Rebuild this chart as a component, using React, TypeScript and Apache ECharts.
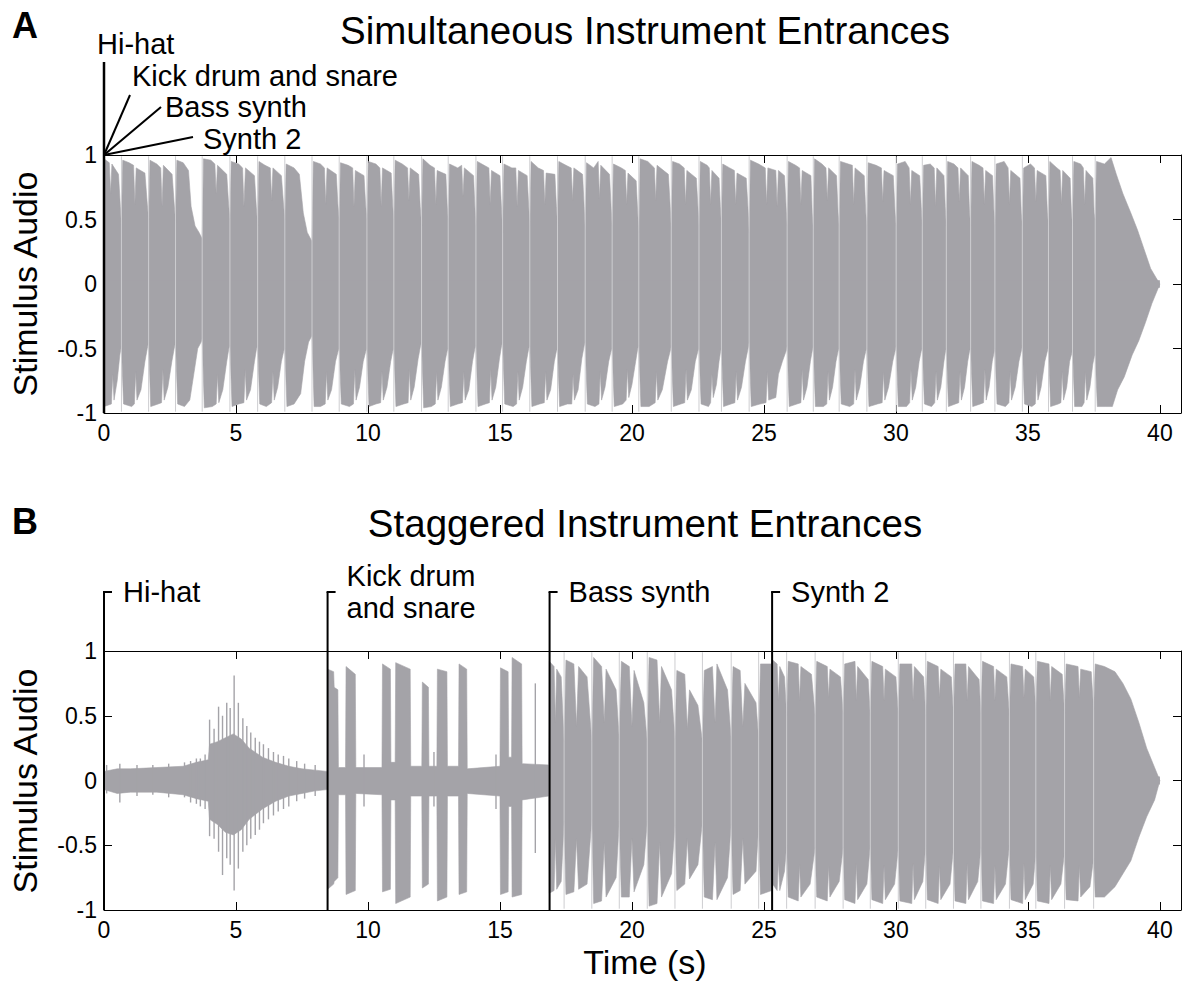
import React, { useEffect, useRef } from "react";
import * as echarts from "echarts";

// ---------------- data ----------------
const X_MAX = 40.8;
const xTickLabels = ["0", "5", "10", "15", "20", "25", "30", "35", "40"];
const yTickLabels = ["-1", "-0.5", "0", "0.5", "1"];

const instrumentsA = ["Hi-hat", "Kick drum and snare", "Bass synth", "Synth 2"];
const instrumentsB = ["Hi-hat", "Kick drum\nand snare", "Bass synth", "Synth 2"];
const entrancesA = [0, 0, 0, 0];
const entrancesB = [0, 8.47, 16.88, 25.31];

// Panel A: envelope breakpoints [time s, amplitude]
const upperA: number[][] = [
  [0,0.97],[0.2,0.94],[0.25,0.7],[0.3,0.93],[0.55,0.85],[0.62,0.6],[0.66,0.45],[0.71,0.96],
  [0.95,0.94],[1.12,0.92],[1.17,0.62],[1.22,0.9],[1.55,0.86],[1.64,0.62],[1.69,0.5],[1.74,0.96],
  [2.0,0.93],[2.15,0.9],[2.2,0.6],[2.25,0.92],[2.58,0.85],[2.66,0.62],[2.71,0.48],[2.76,0.96],
  [3.0,0.94],[3.2,0.88],[3.3,0.6],[3.45,0.45],[3.6,0.4],[3.72,0.35],[3.77,0.97],
  [4.05,0.96],[4.2,0.93],[4.25,0.7],[4.3,0.92],[4.65,0.85],[4.72,0.62],[4.77,0.5],[4.82,0.95],
  [5.1,0.93],[5.25,0.9],[5.3,0.6],[5.36,0.9],[5.7,0.84],[5.77,0.6],[5.82,0.45],[5.87,0.95],
  [6.1,0.92],[6.3,0.9],[6.35,0.65],[6.4,0.9],[6.72,0.84],[6.8,0.62],[6.85,0.5],[6.9,0.93],
  [7.2,0.9],[7.4,0.85],[7.55,0.55],[7.7,0.4],[7.88,0.33],[7.93,0.95],
  [8.2,0.93],[8.35,0.9],[8.4,0.62],[8.45,0.9],[8.8,0.85],[8.86,0.62],[8.91,0.5],[8.96,0.94],
  [9.25,0.92],[9.42,0.9],[9.47,0.6],[9.52,0.88],[9.85,0.84],[9.91,0.62],[9.96,0.5],[10.01,0.95],
  [10.3,0.93],[10.45,0.9],[10.5,0.6],[10.55,0.9],[10.88,0.86],[10.94,0.6],[10.98,0.5],[11.03,0.96],
  [11.3,0.93],[11.5,0.9],[11.55,0.65],[11.6,0.9],[11.92,0.85],[11.98,0.6],[12.03,0.45],[12.08,0.97],
  [12.35,0.92],[12.52,0.9],[12.57,0.62],[12.62,0.88],[12.95,0.85],[13.0,0.62],[13.04,0.5],[13.09,0.93],
  [13.4,0.9],[13.55,0.92],[13.6,0.68],[13.65,0.9],[14.0,0.84],[14.05,0.6],[14.09,0.45],[14.14,0.95],
  [14.4,0.92],[14.58,0.9],[14.63,0.62],[14.68,0.88],[15.0,0.84],[15.06,0.58],[15.1,0.4],[15.15,0.93],
  [15.45,0.9],[15.6,0.9],[15.65,0.6],[15.7,0.88],[16.03,0.84],[16.09,0.6],[16.13,0.45],[16.18,0.95],
  [16.45,0.9],[16.65,0.88],[16.7,0.62],[16.75,0.86],[17.08,0.85],[17.14,0.6],[17.18,0.45],[17.23,0.95],
  [17.5,0.92],[17.7,0.9],[17.75,0.65],[17.8,0.9],[18.13,0.85],[18.19,0.6],[18.23,0.42],[18.28,0.94],
  [18.55,0.9],[18.72,0.95],[18.77,0.66],[18.82,0.92],[19.15,0.85],[19.21,0.6],[19.25,0.45],[19.3,0.93],
  [19.6,0.9],[19.75,0.88],[19.8,0.62],[19.85,0.86],[20.16,0.8],[20.22,0.55],[20.26,0.4],[20.31,0.97],
  [20.6,0.95],[20.85,0.9],[20.9,0.65],[20.95,0.92],[21.38,0.85],[21.45,0.6],[21.49,0.42],[21.54,0.95],
  [21.8,0.93],[21.98,0.9],[22.03,0.62],[22.08,0.88],[22.44,0.82],[22.5,0.6],[22.54,0.45],[22.59,0.95],
  [22.85,0.92],[22.93,0.9],[22.98,0.62],[23.03,0.88],[23.3,0.82],[23.35,0.6],[23.39,0.45],[23.44,0.93],
  [23.7,0.9],[23.88,0.88],[23.93,0.62],[23.98,0.86],[24.33,0.82],[24.4,0.58],[24.44,0.4],[24.49,0.96],
  [24.8,0.93],[25.05,0.9],[25.1,0.62],[25.15,0.9],[25.45,0.88],[25.5,0.6],[25.55,0.88],[25.78,0.84],[25.84,0.6],[25.88,0.45],[25.93,0.95],
  [26.2,0.92],[26.35,0.9],[26.4,0.62],[26.45,0.88],[26.78,0.84],[26.83,0.55],[26.87,0.42],[26.92,0.97],
  [27.2,0.93],[27.35,0.9],[27.4,0.65],[27.45,0.9],[27.75,0.84],[27.81,0.55],[27.85,0.45],[27.9,0.95],
  [28.2,0.93],[28.35,0.92],[28.4,0.62],[28.45,0.9],[28.8,0.84],[28.86,0.55],[28.9,0.45],[28.95,0.94],
  [29.25,0.92],[29.45,0.9],[29.5,0.64],[29.55,0.88],[29.9,0.84],[29.97,0.55],[30.01,0.45],[30.06,0.93],
  [30.35,0.95],[30.5,0.9],[30.55,0.62],[30.6,0.88],[30.9,0.84],[30.96,0.6],[31.0,0.45],[31.05,0.92],
  [31.3,0.93],[31.45,0.9],[31.5,0.6],[31.55,0.9],[31.82,0.84],[31.87,0.6],[31.91,0.45],[31.96,0.95],
  [32.2,0.93],[32.35,0.9],[32.4,0.64],[32.45,0.9],[32.74,0.84],[32.79,0.55],[32.83,0.45],[32.88,0.95],
  [33.15,0.92],[33.3,0.9],[33.35,0.62],[33.4,0.88],[33.66,0.84],[33.71,0.58],[33.75,0.45],[33.8,0.93],
  [34.1,0.95],[34.25,0.9],[34.3,0.62],[34.35,0.88],[34.7,0.82],[34.75,0.55],[34.79,0.45],[34.84,0.9],
  [35.1,0.93],[35.25,0.9],[35.3,0.64],[35.35,0.88],[35.68,0.84],[35.74,0.55],[35.78,0.45],[35.83,0.95],
  [36.1,0.9],[36.22,0.88],[36.27,0.62],[36.32,0.88],[36.6,0.82],[36.65,0.55],[36.69,0.45],[36.74,0.95],
  [37.0,0.93],[37.1,0.9],[37.15,0.62],[37.2,0.88],[37.46,0.82],[37.51,0.55],[37.55,0.5],[37.6,0.95],
  [37.9,0.93],[38.15,0.98],[38.35,0.85],[38.6,0.7],[38.9,0.55],[39.15,0.42],[39.4,0.27],[39.65,0.12],[39.85,0.05],[40.0,0]
];
const lowerA: number[][] = [
  [0,-0.95],[0.28,-0.93],[0.33,-0.7],[0.38,-0.9],[0.5,-0.75],[0.6,-0.55],[0.66,-0.48],[0.74,-0.93],
  [1.05,-0.95],[1.15,-0.93],[1.2,-0.68],[1.25,-0.9],[1.4,-0.82],[1.55,-0.6],[1.64,-0.5],[1.69,-0.45],[1.77,-0.95],
  [2.05,-0.93],[2.18,-0.92],[2.23,-0.66],[2.28,-0.9],[2.42,-0.8],[2.57,-0.6],[2.66,-0.5],[2.71,-0.45],[2.79,-0.93],
  [3.05,-0.95],[3.25,-0.9],[3.4,-0.7],[3.55,-0.5],[3.68,-0.45],[3.72,-0.42],[3.8,-0.96],
  [4.1,-0.95],[4.25,-0.93],[4.3,-0.7],[4.35,-0.92],[4.5,-0.82],[4.65,-0.6],[4.73,-0.5],[4.77,-0.48],[4.85,-0.95],
  [5.1,-0.93],[5.3,-0.92],[5.35,-0.66],[5.4,-0.9],[5.55,-0.82],[5.7,-0.6],[5.78,-0.5],[5.82,-0.48],[5.9,-0.93],
  [6.15,-0.95],[6.35,-0.92],[6.4,-0.68],[6.45,-0.9],[6.58,-0.8],[6.72,-0.6],[6.81,-0.52],[6.85,-0.5],[6.93,-0.95],
  [7.2,-0.93],[7.45,-0.85],[7.6,-0.6],[7.75,-0.45],[7.88,-0.4],[7.96,-0.95],
  [8.2,-0.95],[8.38,-0.93],[8.43,-0.68],[8.48,-0.9],[8.62,-0.82],[8.77,-0.6],[8.87,-0.52],[8.91,-0.5],[8.99,-0.93],
  [9.3,-0.95],[9.45,-0.93],[9.5,-0.66],[9.55,-0.9],[9.68,-0.8],[9.82,-0.6],[9.92,-0.52],[9.96,-0.5],[10.04,-0.95],
  [10.3,-0.93],[10.48,-0.92],[10.53,-0.68],[10.58,-0.9],[10.72,-0.8],[10.86,-0.6],[10.94,-0.52],[10.98,-0.5],[11.06,-0.95],
  [11.35,-0.93],[11.52,-0.92],[11.57,-0.66],[11.62,-0.9],[11.75,-0.8],[11.9,-0.58],[11.99,-0.48],[12.03,-0.45],[12.11,-0.96],
  [12.4,-0.95],[12.55,-0.93],[12.6,-0.68],[12.65,-0.9],[12.78,-0.8],[12.92,-0.6],[13.0,-0.52],[13.04,-0.5],[13.12,-0.95],
  [13.4,-0.93],[13.58,-0.92],[13.63,-0.68],[13.68,-0.9],[13.82,-0.82],[13.96,-0.6],[14.05,-0.5],[14.09,-0.48],[14.17,-0.95],
  [14.45,-0.93],[14.6,-0.92],[14.65,-0.66],[14.7,-0.9],[14.84,-0.8],[14.98,-0.58],[15.06,-0.48],[15.1,-0.45],[15.18,-0.93],
  [15.5,-0.95],[15.63,-0.93],[15.68,-0.68],[15.73,-0.9],[15.86,-0.8],[16.0,-0.6],[16.09,-0.5],[16.13,-0.48],[16.21,-0.95],
  [16.5,-0.93],[16.68,-0.92],[16.73,-0.68],[16.78,-0.9],[16.92,-0.82],[17.06,-0.6],[17.14,-0.52],[17.18,-0.5],[17.26,-0.95],
  [17.55,-0.93],[17.72,-0.93],[17.77,-0.7],[17.82,-0.9],[17.96,-0.82],[18.1,-0.58],[18.19,-0.48],[18.23,-0.45],[18.31,-0.93],
  [18.6,-0.95],[18.75,-0.93],[18.8,-0.68],[18.85,-0.9],[18.98,-0.8],[19.12,-0.6],[19.21,-0.52],[19.25,-0.5],[19.33,-0.95],
  [19.65,-0.93],[19.78,-0.9],[19.83,-0.66],[19.88,-0.88],[20.0,-0.78],[20.14,-0.6],[20.22,-0.5],[20.26,-0.48],[20.34,-0.95],
  [20.65,-0.95],[20.88,-0.92],[20.93,-0.68],[20.98,-0.9],[21.15,-0.82],[21.35,-0.6],[21.45,-0.52],[21.49,-0.48],[21.57,-0.95],
  [21.85,-0.93],[22.0,-0.92],[22.05,-0.66],[22.1,-0.9],[22.25,-0.82],[22.4,-0.6],[22.5,-0.52],[22.54,-0.5],[22.62,-0.93],
  [22.9,-0.95],[22.98,-0.92],[23.03,-0.7],[23.08,-0.88],[23.2,-0.78],[23.3,-0.6],[23.36,-0.52],[23.39,-0.5],[23.47,-0.95],
  [23.75,-0.93],[23.9,-0.92],[23.95,-0.68],[24.0,-0.9],[24.15,-0.8],[24.3,-0.6],[24.4,-0.5],[24.44,-0.45],[24.52,-0.95],
  [24.85,-0.93],[25.08,-0.92],[25.13,-0.68],[25.18,-0.9],[25.45,-0.88],[25.55,-0.7],[25.7,-0.6],[25.84,-0.52],[25.88,-0.48],[25.96,-0.95],
  [26.25,-0.93],[26.4,-0.92],[26.45,-0.66],[26.5,-0.9],[26.63,-0.8],[26.76,-0.6],[26.83,-0.52],[26.87,-0.48],[26.95,-0.95],
  [27.25,-0.95],[27.38,-0.93],[27.43,-0.68],[27.48,-0.9],[27.6,-0.8],[27.73,-0.6],[27.81,-0.52],[27.85,-0.5],[27.93,-0.93],
  [28.25,-0.95],[28.4,-0.93],[28.45,-0.66],[28.5,-0.9],[28.63,-0.8],[28.77,-0.6],[28.86,-0.52],[28.9,-0.5],[28.98,-0.95],
  [29.3,-0.93],[29.48,-0.92],[29.53,-0.68],[29.58,-0.9],[29.72,-0.8],[29.88,-0.6],[29.97,-0.52],[30.01,-0.48],[30.09,-0.95],
  [30.4,-0.95],[30.52,-0.92],[30.57,-0.66],[30.62,-0.9],[30.75,-0.8],[30.88,-0.6],[30.96,-0.52],[31.0,-0.5],[31.08,-0.93],
  [31.35,-0.95],[31.47,-0.92],[31.52,-0.68],[31.57,-0.9],[31.7,-0.8],[31.82,-0.6],[31.88,-0.52],[31.91,-0.5],[31.99,-0.95],
  [32.25,-0.93],[32.38,-0.92],[32.43,-0.68],[32.48,-0.9],[32.6,-0.8],[32.72,-0.6],[32.79,-0.52],[32.83,-0.5],[32.91,-0.95],
  [33.2,-0.93],[33.32,-0.92],[33.37,-0.66],[33.42,-0.9],[33.53,-0.8],[33.65,-0.6],[33.71,-0.54],[33.75,-0.5],[33.83,-0.93],
  [34.15,-0.95],[34.28,-0.92],[34.33,-0.68],[34.38,-0.9],[34.52,-0.8],[34.66,-0.6],[34.75,-0.52],[34.79,-0.48],[34.87,-0.93],
  [35.15,-0.95],[35.28,-0.93],[35.33,-0.68],[35.38,-0.9],[35.5,-0.8],[35.64,-0.6],[35.74,-0.52],[35.78,-0.48],[35.86,-0.95],
  [36.15,-0.93],[36.25,-0.92],[36.3,-0.68],[36.35,-0.9],[36.47,-0.8],[36.58,-0.6],[36.66,-0.54],[36.69,-0.5],[36.77,-0.95],
  [37.05,-0.95],[37.13,-0.92],[37.18,-0.68],[37.23,-0.9],[37.35,-0.8],[37.46,-0.62],[37.52,-0.56],[37.55,-0.55],[37.63,-0.95],
  [37.95,-0.95],[38.2,-0.95],[38.4,-0.82],[38.65,-0.72],[38.95,-0.55],[39.2,-0.44],[39.45,-0.3],[39.7,-0.15],[39.88,-0.06],[40.0,0]
];
// transient streaks (pale vertical lines) in panel A
const lightA = [0.66,1.69,2.71,3.72,4.77,5.82,6.85,7.88,8.91,9.96,10.98,12.03,13.04,14.09,15.1,16.13,17.18,18.23,19.25,20.26,21.49,22.54,23.39,24.44,25.88,26.87,27.85,28.9,30.01,31.0,31.91,32.83,33.75,34.79,35.78,36.69,37.55];

// Panel B
const upperB: number[][] = [
  [0,0.07],[0.5,0.09],[1,0.09],[2,0.1],[3,0.11],[3.5,0.14],[3.95,0.16],[4.0,0.28],[4.3,0.3],[4.6,0.33],[4.9,0.36],[5.2,0.32],[5.5,0.25],[6.0,0.18],[6.5,0.14],[7.0,0.11],[7.5,0.09],[8.0,0.08],[8.46,0.07],
  [8.47,0.86],[8.7,0.84],[8.72,0.72],[8.86,0.7],[8.88,0.1],[9.15,0.1],[9.17,0.88],[9.52,0.82],[9.54,0.1],[10.53,0.1],[10.55,0.9],[10.85,0.86],[10.87,0.14],[11.03,0.14],[11.05,0.91],[11.6,0.86],[11.62,0.11],[12.04,0.11],[12.06,0.76],[12.29,0.72],[12.31,0.11],[12.61,0.11],[12.63,0.86],[12.99,0.84],[13.01,0.11],[13.43,0.11],[13.45,0.9],[13.74,0.86],[13.76,0.09],[15.0,0.11],[15.02,0.87],[15.31,0.84],[15.33,0.18],[15.44,0.18],[15.46,0.95],[15.82,0.9],[15.84,0.13],[16.85,0.12],
  [16.87,0.92],[17.05,0.88],[17.1,0.45],[17.15,0.86],[17.32,0.8],[17.43,0.3],[17.5,0.93],[17.8,0.9],[17.9,0.42],[17.98,0.88],[18.3,0.8],[18.48,0.3],[18.55,0.95],[18.85,0.88],[18.95,0.45],[19.02,0.86],[19.4,0.7],[19.52,0.32],[19.6,0.92],[19.9,0.88],[20.0,0.42],[20.08,0.85],[20.45,0.6],[20.58,0.3],[20.65,0.95],[20.95,0.93],[21.05,0.45],[21.12,0.88],[21.5,0.7],[21.63,0.32],[21.7,0.85],[22.0,0.82],[22.1,0.4],[22.18,0.7],[22.5,0.58],[22.67,0.3],[22.74,0.85],[23.05,0.88],[23.15,0.45],[23.22,0.9],[23.62,0.7],[23.76,0.32],[23.83,0.88],[24.1,0.85],[24.2,0.42],[24.28,0.75],[24.7,0.6],[24.8,0.32],[24.87,0.9],[25.29,0.9],
  [25.33,0.93],[25.5,0.9],[25.55,0.62],[25.6,0.88],[25.78,0.8],[25.86,0.5],[25.92,0.92],[26.3,0.9],[26.35,0.62],[26.4,0.88],[26.8,0.82],[26.94,0.5],[27.0,0.92],[27.4,0.88],[27.45,0.64],[27.5,0.86],[27.9,0.8],[28.0,0.52],[28.06,0.9],[28.45,0.92],[28.5,0.62],[28.55,0.88],[28.95,0.78],[29.03,0.5],[29.09,0.92],[29.5,0.88],[29.55,0.62],[29.6,0.86],[30.0,0.8],[30.09,0.52],[30.15,0.9],[30.6,0.9],[30.65,0.62],[30.7,0.88],[31.05,0.8],[31.13,0.5],[31.19,0.92],[31.6,0.88],[31.65,0.64],[31.7,0.86],[32.1,0.8],[32.18,0.5],[32.24,0.9],[32.65,0.9],[32.7,0.62],[32.75,0.88],[33.15,0.78],[33.22,0.52],[33.28,0.92],[33.7,0.88],[33.75,0.62],[33.8,0.86],[34.2,0.8],[34.3,0.5],[34.36,0.9],[34.8,0.88],[34.85,0.64],[34.9,0.86],[35.22,0.8],[35.3,0.55],[35.36,0.92],[35.8,0.9],[35.85,0.62],[35.9,0.88],[36.3,0.82],[36.39,0.52],[36.45,0.9],[36.9,0.88],[36.95,0.64],[37.0,0.86],[37.4,0.84],[37.49,0.55],[37.55,0.9],[37.9,0.88],[38.3,0.84],[38.6,0.75],[38.9,0.63],[39.2,0.45],[39.5,0.25],[39.8,0.1],[40.0,0]
];
const lowerB: number[][] = [
  [0,-0.07],[0.5,-0.1],[1,-0.09],[2,-0.09],[3,-0.11],[3.5,-0.14],[3.95,-0.16],[4.0,-0.3],[4.3,-0.34],[4.6,-0.4],[4.9,-0.42],[5.2,-0.38],[5.5,-0.3],[6.0,-0.22],[6.5,-0.16],[7.0,-0.12],[7.5,-0.1],[8.0,-0.08],[8.46,-0.07],
  [8.47,-0.84],[8.7,-0.8],[8.72,-0.78],[8.86,-0.75],[8.88,-0.11],[9.15,-0.11],[9.17,-0.88],[9.52,-0.85],[9.54,-0.1],[10.53,-0.11],[10.55,-0.86],[10.85,-0.84],[10.87,-0.15],[11.03,-0.15],[11.05,-0.95],[11.6,-0.9],[11.62,-0.12],[12.04,-0.12],[12.06,-0.83],[12.29,-0.8],[12.31,-0.12],[12.61,-0.12],[12.63,-0.93],[12.99,-0.9],[13.01,-0.12],[13.43,-0.12],[13.45,-0.88],[13.74,-0.86],[13.76,-0.1],[15.0,-0.12],[15.02,-0.88],[15.31,-0.86],[15.33,-0.2],[15.44,-0.2],[15.46,-0.9],[15.82,-0.88],[15.84,-0.15],[16.85,-0.12],
  [16.87,-0.87],[17.05,-0.85],[17.1,-0.45],[17.15,-0.84],[17.32,-0.78],[17.43,-0.32],[17.5,-0.88],[17.8,-0.86],[17.9,-0.45],[17.98,-0.84],[18.3,-0.8],[18.48,-0.3],[18.55,-0.95],[18.85,-0.93],[18.95,-0.48],[19.02,-0.9],[19.4,-0.75],[19.52,-0.32],[19.6,-0.9],[19.9,-0.9],[20.0,-0.45],[20.08,-0.86],[20.45,-0.65],[20.58,-0.32],[20.65,-0.97],[20.95,-0.95],[21.05,-0.48],[21.12,-0.9],[21.5,-0.72],[21.63,-0.35],[21.7,-0.85],[22.0,-0.8],[22.1,-0.45],[22.18,-0.76],[22.5,-0.65],[22.67,-0.32],[22.74,-0.9],[23.05,-0.92],[23.15,-0.48],[23.22,-0.92],[23.62,-0.75],[23.76,-0.34],[23.83,-0.88],[24.1,-0.85],[24.2,-0.45],[24.28,-0.8],[24.7,-0.7],[24.8,-0.35],[24.87,-0.88],[25.29,-0.85],
  [25.33,-0.8],[25.5,-0.85],[25.55,-0.62],[25.6,-0.85],[25.78,-0.7],[25.86,-0.5],[25.92,-0.9],[26.3,-0.93],[26.35,-0.65],[26.4,-0.9],[26.75,-0.8],[26.94,-0.52],[27.0,-0.9],[27.4,-0.93],[27.45,-0.66],[27.5,-0.9],[27.85,-0.78],[28.0,-0.52],[28.06,-0.92],[28.45,-0.95],[28.5,-0.64],[28.55,-0.92],[28.9,-0.8],[29.03,-0.5],[29.09,-0.92],[29.5,-0.95],[29.55,-0.66],[29.6,-0.92],[29.95,-0.8],[30.09,-0.52],[30.15,-0.93],[30.6,-0.95],[30.65,-0.64],[30.7,-0.92],[31.02,-0.78],[31.13,-0.5],[31.19,-0.92],[31.6,-0.95],[31.65,-0.66],[31.7,-0.92],[32.05,-0.8],[32.18,-0.52],[32.24,-0.93],[32.65,-0.95],[32.7,-0.64],[32.75,-0.92],[33.1,-0.78],[33.22,-0.52],[33.28,-0.93],[33.7,-0.95],[33.75,-0.66],[33.8,-0.92],[34.15,-0.8],[34.3,-0.5],[34.36,-0.92],[34.8,-0.95],[34.85,-0.64],[34.9,-0.92],[35.2,-0.8],[35.3,-0.55],[35.36,-0.93],[35.8,-0.95],[35.85,-0.66],[35.9,-0.92],[36.25,-0.8],[36.39,-0.55],[36.45,-0.92],[36.9,-0.93],[36.95,-0.66],[37.0,-0.9],[37.35,-0.82],[37.49,-0.6],[37.55,-0.9],[37.9,-0.9],[38.3,-0.82],[38.6,-0.72],[38.9,-0.62],[39.2,-0.44],[39.5,-0.28],[39.8,-0.15],[40.0,0]
];
// individual hits [time, max, min]
const spikesB: number[][] = [
  [0.1,0.12,-0.1],[0.6,0.13,-0.17],[1.25,0.12,-0.12],[1.85,0.12,-0.11],[2.45,0.13,-0.13],[3.05,0.14,-0.13],[3.28,0.15,-0.17],[3.5,0.17,-0.18],[3.65,0.17,-0.2],[3.83,0.2,-0.22],
  [4.0,0.47,-0.43],[4.17,0.4,-0.45],[4.34,0.57,-0.55],[4.49,0.5,-0.73],[4.65,0.6,-0.6],[4.78,0.56,-0.65],[4.93,0.81,-0.85],[5.09,0.6,-0.68],[5.26,0.48,-0.55],[5.41,0.42,-0.5],[5.56,0.37,-0.45],[5.73,0.33,-0.42],[5.89,0.3,-0.38],[6.04,0.28,-0.33],[6.23,0.25,-0.3],[6.42,0.22,-0.27],[6.6,0.2,-0.24],[6.8,0.19,-0.22],[7.0,0.17,-0.2],[7.3,0.15,-0.16],[7.6,0.13,-0.14],[8.0,0.12,-0.12],
  [9.85,0.2,-0.2],[12.5,0.22,-0.2],[14.85,0.2,-0.22],[16.34,0.75,-0.56]
];
const lightB = [17.43,18.48,19.52,20.58,21.63,22.67,23.76,24.8,25.86,26.94,28.0,29.03,30.09,31.13,32.18,33.22,34.3,35.3,36.39,37.49];

// ---------------- style ----------------
const GREY = "#a4a3a8";
const LIGHT = "#cdcdd0";
const FONT = "'Liberation Sans', Arial, Helvetica, sans-serif";
const TICK_FS = 23;
const ANN_FS = 29;

function xAxis(gridIndex: number, position: string, labels: boolean) {
  return {
    type: "value", gridIndex, position, min: 0, max: X_MAX, interval: 5,
    axisLine: { show: true, onZero: false, lineStyle: { color: "#000", width: 1 } },
    axisTick: { show: true, inside: true, length: 8, lineStyle: { color: "#000", width: 1 } },
    axisLabel: {
      show: labels, margin: 8, color: "#000", fontSize: TICK_FS, fontFamily: FONT,
      formatter: (v: number) => (xTickLabels.includes(String(v)) ? String(v) : ""),
    },
    splitLine: { show: false },
  };
}
function yAxis(gridIndex: number, position: string, labels: boolean) {
  return {
    type: "value", gridIndex, position, min: -1, max: 1, interval: 0.5,
    axisLine: { show: true, onZero: false, lineStyle: { color: "#000", width: 1 } },
    axisTick: { show: true, inside: true, length: 8, lineStyle: { color: "#000", width: 1 } },
    axisLabel: {
      show: labels, margin: 7, color: "#000", fontSize: TICK_FS, fontFamily: FONT,
      formatter: (v: number) => (yTickLabels.includes(String(v)) ? String(v) : ""),
    },
    splitLine: { show: false },
  };
}
function envelope(data: number[][], idx: number, origin: number) {
  return {
    type: "line", xAxisIndex: idx * 2, yAxisIndex: idx * 2, data,
    symbol: "none", showSymbol: false, silent: true, z: 2,
    lineStyle: { width: 0.6, color: GREY },
    areaStyle: { color: GREY, opacity: 1, origin },
  };
}
function streaks(times: number[], idx: number) {
  return {
    type: "custom", xAxisIndex: idx * 2, yAxisIndex: idx * 2, silent: true, z: 3,
    data: times.map((t) => [t, 0]), encode: { x: 0, y: 1 },
    renderItem: (_p: any, api: any) => {
      const t = api.value(0);
      const a = api.coord([t, -0.99]);
      const b = api.coord([t, 0.99]);
      return { type: "line", shape: { x1: a[0], y1: a[1], x2: b[0], y2: b[1] }, style: { stroke: LIGHT, lineWidth: 1 } };
    },
  };
}

// annotation layout offsets (px) relative to (entrance, 1)
const A_LAYOUT = [
  { line: [0, -93], text: [-7, -111] },
  { line: [26, -60], text: [28, -79] },
  { line: [57, -48], text: [61, -48] },
  { line: [89, -18], text: [99, -16] },
];
const BRACKET_RISE = 59;

function txt(text: string, x: number, y: number, size: number, align = "center", extra: any = {}) {
  const { bold, ...rest } = extra;
  return {
    type: "text", x, y, silent: true, ...rest,
    style: {
      text, fill: "#000", fontSize: size, fontFamily: FONT, fontWeight: bold ? "bold" : "normal",
      align, textAlign: align, verticalAlign: "middle", textVerticalAlign: "middle",
    },
  };
}

export default function App() {
  const ref = useRef<HTMLDivElement>(null);
  useEffect(() => {
    if (!ref.current) return;
    const chart = echarts.init(ref.current, undefined, { renderer: "svg" });
    const option: any = {
      animation: false,
      backgroundColor: "#fff",
      grid: [
        { left: 104, top: 155, width: 1080, height: 258 },
        { left: 104, top: 651, width: 1080, height: 259 },
      ],
      xAxis: [xAxis(0, "bottom", true), xAxis(0, "top", false), xAxis(1, "bottom", true), xAxis(1, "top", false)],
      yAxis: [yAxis(0, "left", true), yAxis(0, "right", false), yAxis(1, "left", true), yAxis(1, "right", false)],
      series: [
        envelope(upperA, 0, -0.03),
        envelope(lowerA, 0, 0.03),
        streaks(lightA, 0),
        envelope(upperB, 1, -0.03),
        envelope(lowerB, 1, 0.03),
        {
          type: "custom", xAxisIndex: 2, yAxisIndex: 2, silent: true, z: 3,
          data: spikesB, encode: { x: 0, y: [1, 2] },
          renderItem: (_p: any, api: any) => {
            const t = api.value(0);
            const a = api.coord([t, api.value(1)]);
            const b = api.coord([t, api.value(2)]);
            return { type: "line", shape: { x1: a[0], y1: a[1], x2: b[0], y2: b[1] }, style: { stroke: GREY, lineWidth: 1.4 } };
          },
        },
        streaks(lightB, 1),
        {
          type: "custom", xAxisIndex: 0, yAxisIndex: 0, silent: true, z: 10, clip: false,
          data: entrancesA.map((t, i) => [t, 1, i]), encode: { x: 0, y: 1 },
          renderItem: (_p: any, api: any) => {
            const t = api.value(0);
            const i = api.value(2);
            const base = api.coord([t, 1]);
            const bottom = api.coord([t, -1]);
            const o = A_LAYOUT[i];
            const children: any[] = [];
            if (i === 0) {
              children.push({ type: "line", shape: { x1: base[0], y1: bottom[1], x2: base[0], y2: base[1] + o.line[1] }, style: { stroke: "#000", lineWidth: 2.5 } });
            } else {
              children.push({ type: "line", shape: { x1: base[0], y1: base[1], x2: base[0] + o.line[0], y2: base[1] + o.line[1] }, style: { stroke: "#000", lineWidth: 2 } });
            }
            children.push({
              type: "text", x: base[0] + o.text[0], y: base[1] + o.text[1],
              style: { text: instrumentsA[i], fill: "#000", fontSize: ANN_FS, fontFamily: FONT, align: "left", verticalAlign: "middle" },
            });
            return { type: "group", children };
          },
        },
        {
          type: "custom", xAxisIndex: 2, yAxisIndex: 2, silent: true, z: 10, clip: false,
          data: entrancesB.map((t, i) => [t, 1, i]), encode: { x: 0, y: 1 },
          renderItem: (_p: any, api: any) => {
            const t = api.value(0);
            const i = api.value(2);
            const top = api.coord([t, 1]);
            const bottom = api.coord([t, -1]);
            const x = top[0];
            const yTop = top[1] - BRACKET_RISE;
            return {
              type: "group",
              children: [
                { type: "line", shape: { x1: x, y1: bottom[1], x2: x, y2: yTop }, style: { stroke: "#000", lineWidth: 2 } },
                { type: "line", shape: { x1: x - 1, y1: yTop, x2: x + 8, y2: yTop }, style: { stroke: "#000", lineWidth: 2 } },
                {
                  type: "text", x: x + 19, y: yTop,
                  style: { text: instrumentsB[i], fill: "#000", fontSize: ANN_FS, fontFamily: FONT, align: "left", verticalAlign: "middle", lineHeight: 32 },
                },
              ],
            };
          },
        },
      ],
      graphic: [
        txt("A", 12, 25, 36, "left", { bold: true }),
        txt("B", 12, 521, 36, "left", { bold: true }),
        txt("Simultaneous Instrument Entrances", 645, 30, 38.5),
        txt("Staggered Instrument Entrances", 645, 523, 38.5),
        txt("Stimulus Audio", 25, 284, 34, "center", { rotation: Math.PI / 2 }),
        txt("Stimulus Audio", 25, 781, 34, "center", { rotation: Math.PI / 2 }),
        txt("Time (s)", 645, 962, 34),
      ],
    };
    chart.setOption(option);
    return () => chart.dispose();
  }, []);
  return <div ref={ref} style={{ position: "fixed", left: 0, top: 0, width: 1184, height: 986 }} />;
}
